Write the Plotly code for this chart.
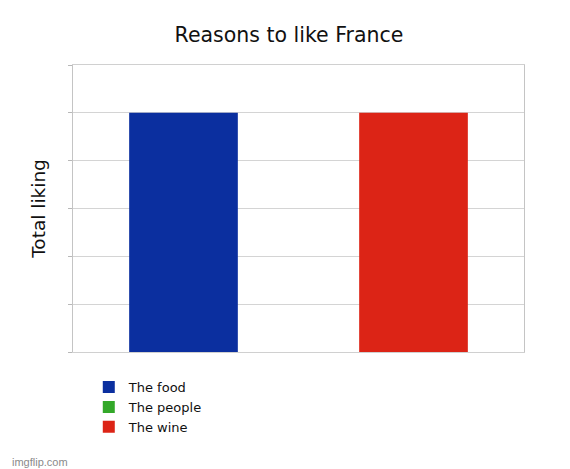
import plotly.graph_objects as go

# data
series = ["The food", "The people", "The wine"]
liking = [5, 0, 5]
colors = ["#0b2f9f", "#33a829", "#dc2416"]
y_ticks = [0, 1, 2, 3, 4, 5, 6]

fig = go.Figure()
for name, val, col in zip(series, liking, colors):
    fig.add_trace(go.Bar(
        name=name, x=["France"], y=[val],
        marker=dict(color=col, line=dict(width=0)),
    ))

# page body adds 8px, so margins are trimmed to keep the plot box in place
fig.update_layout(
    width=570, height=469,
    margin=dict(l=65, r=54, t=57, b=125),
    paper_bgcolor="white", plot_bgcolor="white",
    font=dict(family="DejaVu Sans", color="#111111"),
    title=dict(text="Reasons to like France", x=0.493, xanchor="center",
               y=0.942, yanchor="middle", font=dict(size=20.5)),
    barmode="group", bargap=0.235, bargroupgap=0.055,
    showlegend=True,
    legend=dict(x=0.035, xanchor="left", y=-0.07, yanchor="top",
                font=dict(size=13), traceorder="normal",
                itemwidth=30, tracegroupgap=0),
)

fig.update_xaxes(showticklabels=False, ticks="", showgrid=False,
                 showline=True, linecolor="#d0d0d0", mirror=True)
fig.update_yaxes(range=[0, 6], tickvals=y_ticks, showticklabels=False,
                 ticks="outside", ticklen=4, tickcolor="#b8b8b8",
                 gridcolor="#d4d4d4", showline=True, linecolor="#c4c4c4",
                 mirror=True, zeroline=False,
                 title=dict(text="Total liking", font=dict(size=18.5), standoff=17))

fig.add_annotation(text="imgflip.com", xref="paper", yref="paper",
                   x=-0.14, y=-0.383, xanchor="left", yanchor="middle",
                   showarrow=False,
                   font=dict(family="Liberation Sans", size=11, color="#8a8a8a"))

fig.write_html("out.html")
